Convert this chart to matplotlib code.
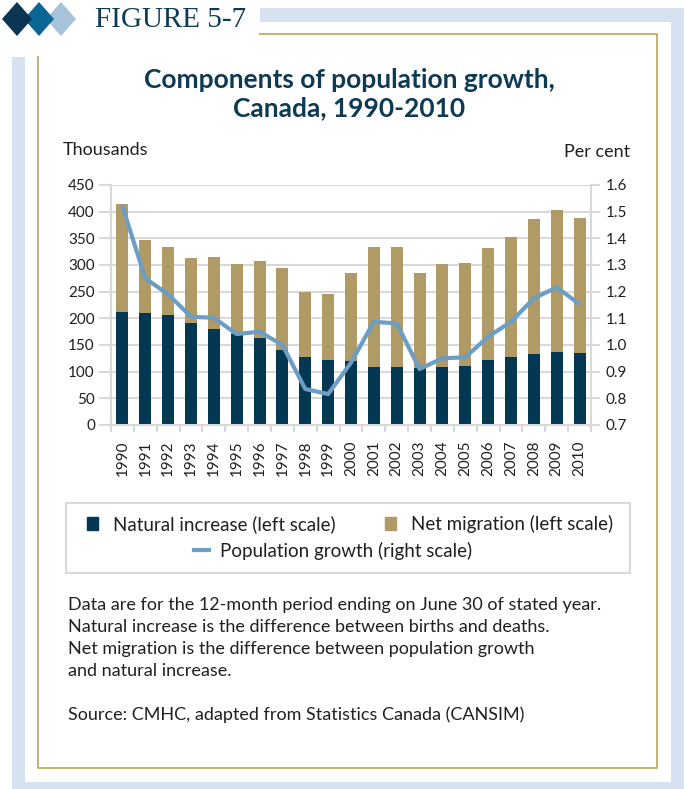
import matplotlib
matplotlib.use("Agg")
import matplotlib.pyplot as plt
from matplotlib.patches import Rectangle, Polygon, Patch
from matplotlib.lines import Line2D

# data
years = [str(y) for y in range(1990, 2011)]
natural = [212, 210, 206, 191, 180, 170, 163, 141, 127, 122, 120,
           109, 109, 107, 109, 111, 122, 127, 133, 137, 135]
total = [414, 347, 334, 313, 315, 302, 308, 295, 249, 246, 285,
         334, 334, 285, 302, 304, 332, 353, 386, 403, 388]
growth = [1.52, 1.25, 1.19, 1.106, 1.102, 1.041, 1.05, 1.0, 0.835, 0.816, 0.934,
          1.087, 1.081, 0.91, 0.95, 0.954, 1.031, 1.087, 1.175, 1.216, 1.153]
migration = [t - n for t, n in zip(total, natural)]

left_ticks = list(range(0, 451, 50))
right_ticks = [0.7, 0.8, 0.9, 1.0, 1.1, 1.2, 1.3, 1.4, 1.5, 1.6]
right_labels = ["0.7", "0.8", "0.9", "1.0", "1.1", "1.2", "1.3", "1.4", "1.5", "1.6"]

NAVY = "#033752"
TAN = "#b09a66"
LINEC = "#6b9dc5"
GRID = "#d9d9d9"
TXT = "#231f20"
TITLEC = "#0d3a55"

plt.rcParams['font.family'] = ['Lato', 'DejaVu Sans']

W, H = 685, 789
fig = plt.figure(figsize=(W / 100, H / 100), dpi=100)
fig.patch.set_facecolor("white")

# decorative frame, drawn in pixel coords
bg = fig.add_axes([0, 0, 1, 1], zorder=-1)
bg.set_xlim(0, W)
bg.set_ylim(H, 0)
bg.axis("off")
FRAME = "#d6e2ef"
bg.add_patch(Rectangle((260, 8), 424, 14, color=FRAME, lw=0))
bg.add_patch(Rectangle((671, 8), 13, 781, color=FRAME, lw=0))
bg.add_patch(Rectangle((12, 782), 672, 7, color=FRAME, lw=0))
bg.add_patch(Rectangle((12, 57), 13, 732, color=FRAME, lw=0))
bg.plot([260, 657, 657, 38, 38], [34, 34, 768, 768, 57], color="#c4a866", lw=1.3)
for cx, c in [(61, "#a7c3dc"), (39, "#0b6696"), (17, "#0b3553")]:
    bg.add_patch(Polygon([(cx - 15, 19), (cx, 2), (cx + 15, 19), (cx, 36)], closed=True, color=c, lw=0))
bg.text(95, 20, "FIGURE 5-7", family="Liberation Serif", fontsize=21, color=TITLEC, va="center", ha="left")
bg.text(349, 94, "Components of population growth,\nCanada, 1990-2010", fontsize=19, fontweight="bold",
        color=TITLEC, ha="center", va="center", linespacing=1.18)
bg.text(63, 150, "Thousands", fontsize=13, color=TXT, va="center", ha="left")
bg.text(630, 152, "Per cent", fontsize=13, color=TXT, va="center", ha="right")

# legend frame
bg.add_patch(Rectangle((66, 503), 564, 70, fill=False, ec=GRID, lw=1.5))

notes = ("Data are for the 12-month period ending on June 30 of stated year.\n"
         "Natural increase is the difference between births and deaths.\n"
         "Net migration is the difference between population growth\n"
         "and natural increase.")
bg.text(68, 597, notes, fontsize=13, color=TXT, va="top", ha="left", linespacing=1.46)
bg.text(68, 715, "Source: CMHC, adapted from Statistics Canada (CANSIM)", fontsize=13,
        color=TXT, va="center", ha="left")

# main chart
ax = fig.add_axes([111 / W, 1 - 425 / H, (591 - 111) / W, (425 - 185) / H])
x = list(range(len(years)))
ax.bar(x, natural, width=0.52, color=NAVY, zorder=3)
ax.bar(x, migration, bottom=natural, width=0.52, color=TAN, zorder=3)
ax.set_xlim(-0.5, len(years) - 0.5)
ax.set_ylim(0, 450)
ax.set_yticks(left_ticks)
ax.yaxis.grid(True, color=GRID, lw=1.5, zorder=0)
ax.set_axisbelow(True)
ax.set_xticks(x)
ax.set_xticklabels(years, rotation=90, fontsize=11, color=TXT)
ax.set_xticks([i - 0.5 for i in range(len(years) + 1)], minor=True)
ax.tick_params(axis="x", which="major", length=0, pad=11)
ax.tick_params(axis="x", which="minor", length=5, width=1.5, color=GRID)
ax.tick_params(axis="y", length=8.6, width=1.5, color=GRID, pad=3, labelsize=11, labelcolor=TXT)
for s in ["left", "right", "bottom"]:
    ax.spines[s].set_color(GRID)
    ax.spines[s].set_linewidth(1.5)
ax.spines["top"].set_visible(False)

ax2 = ax.twinx()
ax2.plot(x, growth, color=LINEC, lw=3, zorder=4, solid_capstyle="butt")
ax2.set_ylim(0.7, 1.6)
ax2.set_yticks(right_ticks)
ax2.set_yticklabels(right_labels)
ax2.tick_params(axis="y", length=6.5, width=1.5, color=GRID, pad=4, labelsize=11, labelcolor=TXT)
for s in ["left", "right", "bottom"]:
    ax2.spines[s].set_color(GRID)
    ax2.spines[s].set_linewidth(1.5)
ax2.spines["top"].set_visible(False)

# legends
h1 = [Patch(color=NAVY), Patch(color=TAN)]
leg1 = fig.legend(h1, ["Natural increase (left scale)", "Net migration (left scale)"],
                  loc="center", bbox_to_anchor=(350 / W, 1 - 524 / H), ncol=2, frameon=False,
                  fontsize=13.5, handlelength=0.6, handleheight=0.65, handletextpad=0.8,
                  columnspacing=2.6, labelcolor=TXT)
leg2 = fig.legend([Line2D([0], [0], color=LINEC, lw=3)], ["Population growth (right scale)"],
                  loc="center", bbox_to_anchor=(333 / W, 1 - 551 / H), frameon=False,
                  fontsize=13.5, handlelength=0.8, handletextpad=0.6, labelcolor=TXT)

fig.savefig("out.png", dpi=100)
